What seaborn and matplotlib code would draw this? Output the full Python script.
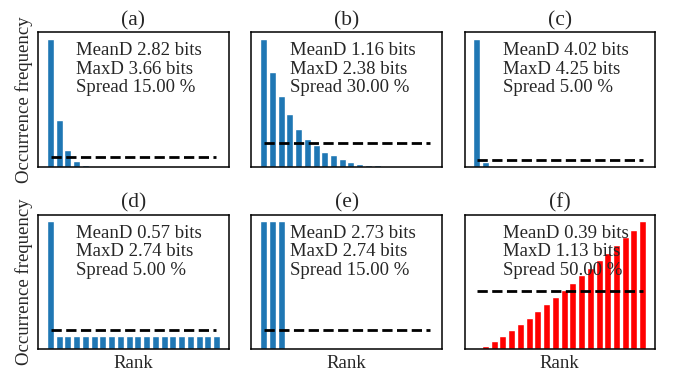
import numpy as np
import matplotlib
matplotlib.use("Agg")
import matplotlib.pyplot as plt
import seaborn as sns

sns.set_style("white")
plt.rcParams['font.family'] = ['Liberation Serif', 'DejaVu Serif']

# rank positions 1..20
ranks = list(range(1, 21))

# normalised occurrence frequency per rank
freq_a = [0.642, 0.236, 0.082, 0.028, 0.009, 0.003, 0.0, 0.0, 0.0, 0.0,
          0.0, 0.0, 0.0, 0.0, 0.0, 0.0, 0.0, 0.0, 0.0, 0.0]
freq_b = [0.2656, 0.197, 0.1467, 0.1084, 0.079, 0.058, 0.044, 0.0314, 0.0245, 0.0161,
          0.0105, 0.0063, 0.0042, 0.0027, 0.0021, 0.0015, 0.0006, 0.0006, 0.0004, 0.0002]
freq_c = [0.962, 0.038, 0.0, 0.0, 0.0, 0.0, 0.0, 0.0, 0.0, 0.0,
          0.0, 0.0, 0.0, 0.0, 0.0, 0.0, 0.0, 0.0, 0.0, 0.0]
freq_d = [0.329] + [0.0353] * 19
freq_e = [0.3333, 0.3333, 0.3333] + [0.0] * 17
freq_f = [0.0, 0.0031, 0.0072, 0.0117, 0.0166, 0.0217, 0.0272, 0.0329, 0.0389, 0.0449,
          0.0509, 0.0569, 0.0632, 0.0695, 0.0761, 0.0824, 0.089, 0.0958, 0.1024, 0.1096]

titles = ['(a)', '(b)', '(c)', '(d)', '(e)', '(f)']
mean_d = [2.82, 1.16, 4.02, 0.57, 2.73, 0.39]
max_d = [3.66, 2.38, 4.25, 2.74, 2.74, 1.13]
spread = [15.00, 30.00, 5.00, 5.00, 15.00, 50.00]
colors = ['#1f77b4'] * 5 + ['#ff0000']

all_freq = [freq_a, freq_b, freq_c, freq_d, freq_e, freq_f]

fig, axes = plt.subplots(2, 3, figsize=(6.73, 3.75), dpi=100)
fig.subplots_adjust(left=0.057, right=0.973, top=0.914, bottom=0.0685,
                    wspace=0.12, hspace=0.359)

for i, ax in enumerate(axes.flat):
    vals = np.array(all_freq[i])
    sns.barplot(x=ranks, y=vals, ax=ax, color=colors[i], saturation=1, width=0.8)
    n = len(vals)
    # dashed line = uniform level (mean frequency)
    ax.plot([0, n - 1], [vals.mean(), vals.mean()], color='black',
            linestyle='--', linewidth=2)
    ax.set_xlim(-0.4 - 0.99, n - 0.6 + 0.99)
    ax.set_ylim(0, vals.max() * 1.05)
    ax.set_xticks([])
    ax.set_yticks([])
    for sp in ax.spines.values():
        sp.set_visible(True)
        sp.set_color('black')
        sp.set_linewidth(1.1)
    ax.set_title(titles[i], fontsize=15.5, pad=5)
    txt = f"MeanD {mean_d[i]:.2f} bits\nMaxD {max_d[i]:.2f} bits\nSpread {spread[i]:.2f} %"
    ax.text(0.2, 0.925, txt, transform=ax.transAxes, va='top', ha='left',
            fontsize=13.5, linespacing=1.1, zorder=5)
    ax.set_xlabel('')
    ax.set_ylabel('')

for ax in axes[:, 0]:
    ax.set_ylabel('Occurrence frequency', fontsize=13.5)
for ax in axes[1, :]:
    ax.set_xlabel('Rank', fontsize=13.5)

fig.savefig('out.png', dpi=100)
